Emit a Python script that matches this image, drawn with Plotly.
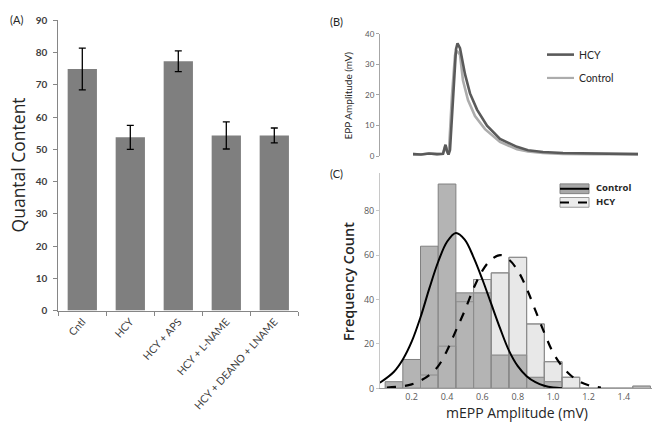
import plotly.graph_objects as go

W, H = 663, 431

# (A) quantal content
groups = ["Cntl", "HCY", "HCY + APS", "HCY + L-NAME", "HCY + DEANO + LNAME"]
quantal = [74.9, 53.7, 77.3, 54.3, 54.3]
quantal_err = [6.5, 3.7, 3.2, 4.2, 2.3]

# (B) EPP traces
hcy_t = [0.0, 0.8, 1.6, 2.4, 3.0, 3.15, 3.25, 3.4, 3.55, 3.7, 4.0, 4.3, 4.45, 4.7,
         5.2, 5.7, 6.4, 7.4, 8.7, 10.4, 11.5, 13.0, 15.0, 18.0, 22.5]
hcy_v = [0.6, 0.5, 0.8, 0.6, 0.7, 2.6, 3.7, 1.6, 0.5, 2.0, 20.0, 35.0, 36.9, 35.3,
         26.8, 20.5, 15.2, 9.9, 5.6, 3.0, 1.9, 1.3, 1.0, 0.8, 0.6]
ctrl_t = [0.0, 0.8, 1.6, 2.4, 3.0, 3.15, 3.25, 3.4, 3.55, 3.6, 3.9, 4.2, 4.35, 4.7,
          5.0, 5.5, 6.2, 7.2, 8.7, 10.4, 11.5, 13.0, 15.0, 18.0, 22.5]
ctrl_v = [0.6, 0.5, 0.8, 0.6, 0.7, 2.4, 3.5, 1.5, 0.5, 2.0, 20.0, 33.0, 34.5, 33.2,
          24.7, 18.3, 13.1, 8.8, 4.6, 2.2, 1.5, 1.0, 0.7, 0.6, 0.6]

# (C) mEPP amplitude histograms (bin centres, mV)
bins = [0.1, 0.2, 0.3, 0.4, 0.5, 0.6, 0.7, 0.8, 0.9, 1.0, 1.1, 1.2, 1.3, 1.4, 1.5]
ctrl_counts = [3, 13, 64, 92, 43, 43, 15, 15, 5, 3, 0, 0, 0, 0, 0]
hcy_counts = [0, 0, 6, 19, 39, 49, 52, 59, 29, 12, 5, 0, 0, 0, 1]

ctrl_fit_x = [0.02, 0.10, 0.15, 0.20, 0.25, 0.30, 0.35, 0.40, 0.45, 0.50, 0.55,
              0.60, 0.65, 0.70, 0.75, 0.80, 0.85, 0.90, 0.95, 1.00, 1.05]
ctrl_fit_y = [2.5, 7.5, 13, 21, 32, 45, 57, 66, 70, 67, 59,
              49, 38, 27, 17, 10, 5.5, 2.8, 1.2, 0.4, 0.1]
hcy_fit_x = [0.06, 0.15, 0.20, 0.25, 0.30, 0.35, 0.40, 0.45, 0.50, 0.55, 0.60, 0.65,
             0.70, 0.75, 0.80, 0.85, 0.90, 0.95, 1.00, 1.05, 1.10, 1.15, 1.20, 1.27]
hcy_fit_y = [0.3, 1.0, 1.8, 3.5, 6.0, 10, 17, 26, 35, 45, 53, 58,
             60, 58, 53, 45, 35, 25, 16, 10, 5.8, 3.0, 1.4, 0.3]


def px(x):
    return x / W


def py(y):
    return 1 - y / H


fig = go.Figure()

fig.add_trace(go.Bar(
    x=groups, y=quantal,
    marker={"color": "#7f7f7f", "line": {"width": 0}},
    error_y={"type": "data", "array": quantal_err, "color": "black",
             "thickness": 1.3, "width": 3.5},
    xaxis="x", yaxis="y",
))

fig.add_trace(go.Scatter(
    x=ctrl_t, y=ctrl_v, mode="lines", line={"color": "#acacac", "width": 2.6},
    xaxis="x2", yaxis="y2",
))
fig.add_trace(go.Scatter(
    x=hcy_t, y=hcy_v, mode="lines", line={"color": "#5a5a5a", "width": 2.6},
    xaxis="x2", yaxis="y2",
))

fig.add_trace(go.Bar(
    x=bins, y=hcy_counts, width=0.1,
    marker={"color": "#e8e8e8", "line": {"color": "#8c8c8c", "width": 1}},
    xaxis="x3", yaxis="y3",
))
fig.add_trace(go.Bar(
    x=bins, y=ctrl_counts, width=0.1,
    marker={"color": "#b4b4b4", "line": {"color": "#808080", "width": 1}},
    xaxis="x3", yaxis="y3",
))
fig.add_trace(go.Bar(
    x=bins, y=hcy_counts, width=0.1,
    marker={"color": "rgba(0,0,0,0)", "line": {"color": "#8c8c8c", "width": 1}},
    xaxis="x3", yaxis="y3",
))
fig.add_trace(go.Scatter(
    x=ctrl_fit_x, y=ctrl_fit_y, mode="lines", line_shape="spline",
    line={"color": "black", "width": 2},
    xaxis="x3", yaxis="y3",
))
fig.add_trace(go.Scatter(
    x=hcy_fit_x, y=hcy_fit_y, mode="lines", line_shape="spline",
    line={"color": "black", "width": 2.2, "dash": "dash"},
    xaxis="x3", yaxis="y3",
))

tick_a = {"family": "Lato", "size": 10.5, "color": "#404040"}
tick_c = {"family": "Open Sans", "size": 9, "color": "#595959"}

fig.update_layout(
    width=W, height=H,
    margin={"l": 0, "r": 0, "t": 0, "b": 0},
    paper_bgcolor="white", plot_bgcolor="white",
    showlegend=False,
    barmode="overlay",
    bargap=0.39,
    xaxis={
        "domain": [px(58.3), px(298.3)], "anchor": "y",
        "showline": True, "linecolor": "#868686", "linewidth": 1,
        "ticks": "outside", "tickson": "boundaries", "ticklen": 4, "tickcolor": "#868686",
        "tickangle": -48, "tickfont": tick_a, "showgrid": False,
    },
    yaxis={
        "domain": [py(313.3), py(14.7)], "anchor": "x", "range": [0, 90],
        "dtick": 10, "showline": True, "linecolor": "#868686", "linewidth": 1,
        "ticks": "outside", "ticklen": 4, "tickcolor": "#868686",
        "tickfont": {"family": "Lato", "size": 10, "color": "#404040", "weight": "bold"},
        "ticklabelstandoff": 4,
        "showgrid": False, "zeroline": False,
    },
    xaxis2={
        "domain": [px(380), px(645)], "anchor": "y2", "range": [-3.3, 23.2],
        "visible": False,
    },
    yaxis2={
        "domain": [py(154.3), py(28.7)], "anchor": "x2", "range": [0, 40],
        "dtick": 10, "showline": True, "linecolor": "#a6a6a6", "linewidth": 1,
        "ticks": "outside", "ticklen": 3, "tickcolor": "#a6a6a6",
        "tickfont": {"family": "Lato", "size": 8, "color": "#595959"},
        "showgrid": False, "zeroline": False,
    },
    xaxis3={
        "domain": [px(380), px(651.7)], "anchor": "y3", "range": [0.021, 1.557],
        "tickvals": [0.2, 0.4, 0.6, 0.8, 1.0, 1.2, 1.4],
        "ticktext": ["0.2", "0.4", "0.6", "0.8", "1.0", "1.2", "1.4"],
        "showline": True, "linecolor": "#9a9a9a", "linewidth": 1,
        "ticks": "", "tickfont": tick_c, "showgrid": False, "zeroline": False,
    },
    yaxis3={
        "domain": [py(393.3), py(171.7)], "anchor": "x3", "range": [0, 97],
        "tickvals": [0, 20, 40, 60, 80],
        "showline": True, "linecolor": "#c8c8c8", "linewidth": 1,
        "ticks": "outside", "ticklen": 3, "tickcolor": "#c8c8c8",
        "tickfont": tick_c, "showgrid": False, "zeroline": False,
    },
)

ann = [
    ("(A)", 16, 14, 11, 0, "Lato", "normal", "center"),
    ("(B)", 336, 16, 11, 0, "Lato", "normal", "center"),
    ("(C)", 336, 172, 11, 0, "Lato", "normal", "center"),
    ("Quantal Content", 18, 164, 17.5, -90, "Open Sans", "normal", "center"),
    ("EPP Amplitude (mV)", 348, 92, 10, -90, "Lato", "normal", "center"),
    ("Frequency Count", 348, 284, 14.5, -90, "Open Sans", 600, "center"),
    ("mEPP Amplitude (mV)", 517, 418, 14, 0, "Open Sans", "normal", "center"),
    ("HCY", 577, 50, 10.5, 0, "Lato", "normal", "left"),
    ("Control", 577, 74, 10.5, 0, "Lato", "normal", "left"),
    ("Control", 594, 187, 9.5, 0, "Open Sans", "bold", "left"),
    ("HCY", 594, 201, 9.5, 0, "Open Sans", "bold", "left"),
]
for text, x, y, size, angle, family, weight, anchor in ann:
    fig.add_annotation(
        text=text, x=px(x), y=py(y), xref="paper", yref="paper",
        xanchor=anchor, yanchor="middle", showarrow=False, textangle=angle,
        font={"family": family, "size": size, "color": "#262626", "weight": weight},
    )

# legend swatches
shapes = [
    {"type": "line", "x0": px(547), "x1": px(574), "y0": py(50), "y1": py(50),
     "line": {"color": "#5a5a5a", "width": 2.6}},
    {"type": "line", "x0": px(547), "x1": px(574), "y0": py(74), "y1": py(74),
     "line": {"color": "#acacac", "width": 2.2}},
    {"type": "rect", "x0": px(560), "x1": px(589), "y0": py(193), "y1": py(183),
     "fillcolor": "#a8a8a8", "line": {"color": "#808080", "width": 1}},
    {"type": "line", "x0": px(560), "x1": px(589), "y0": py(188), "y1": py(188),
     "line": {"color": "black", "width": 2}},
    {"type": "rect", "x0": px(560), "x1": px(589), "y0": py(207), "y1": py(197),
     "fillcolor": "#ececec", "line": {"color": "#9a9a9a", "width": 1}},
    {"type": "line", "x0": px(560), "x1": px(589), "y0": py(202), "y1": py(202),
     "line": {"color": "black", "width": 2, "dash": "dash"}},
]
for s in shapes:
    fig.add_shape(xref="paper", yref="paper", **s)

fig.write_html(
    "out.html",
    config={"displayModeBar": False},
    post_script="document.body.style.margin = '0';",
)
